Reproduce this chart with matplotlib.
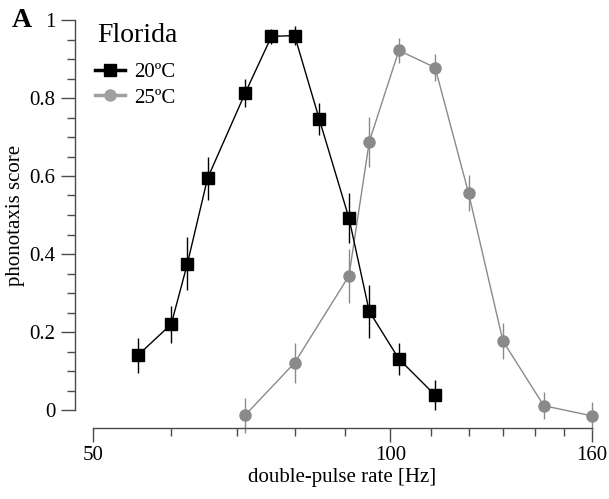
import matplotlib.pyplot as plt
from matplotlib.lines import Line2D
from matplotlib.ticker import FixedLocator, NullFormatter, MultipleLocator

plt.rcParams['font.family'] = ['Liberation Serif', 'DejaVu Serif']

# 20 degC series
rate_20 = [55.5, 60, 62.3, 65.3, 71.3, 75.8, 80, 84.7, 90.8, 95.2, 102, 111]
score_20 = [0.140, 0.220, 0.375, 0.594, 0.813, 0.958, 0.960, 0.747, 0.492, 0.253, 0.131, 0.038]
err_20 = [0.044, 0.047, 0.068, 0.055, 0.035, 0.02, 0.025, 0.041, 0.064, 0.068, 0.040, 0.038]

# 25 degC series
rate_25 = [71.3, 80, 90.8, 95.2, 102, 111, 120, 130, 143, 160]
score_25 = [-0.013, 0.121, 0.344, 0.688, 0.922, 0.878, 0.556, 0.177, 0.011, -0.015]
err_25 = [0.045, 0.051, 0.069, 0.064, 0.032, 0.034, 0.046, 0.046, 0.035, 0.036]

major_x = [50, 100, 160]
minor_x = [60, 70, 80, 90, 110, 120, 130, 140, 150]
y_ticks = [0, 0.2, 0.4, 0.6, 0.8, 1.0]
y_labels = ['0', '0.2', '0.4', '0.6', '0.8', '1']

axis_col = '#4a4a4a'
gray = '#8a8a8a'

fig = plt.figure(figsize=(6.09, 4.99), dpi=100)
ax = fig.add_axes([93 / 609, 89 / 499, 499 / 609, 390 / 499])

ax.errorbar(rate_20, score_20, yerr=err_20, color='black', lw=1.0,
            marker='s', ms=8.5, elinewidth=1.0, capsize=0, zorder=3)
ax.errorbar(rate_25, score_25, yerr=err_25, color=gray, lw=1.0,
            marker='o', ms=8, mfc=gray, mec=gray, elinewidth=1.0, capsize=0,
            zorder=2)
for c in ax.lines + list(ax.collections):
    c.set_clip_on(False)

ax.set_xscale('log')
ax.set_xlim(50, 160)
ax.set_ylim(0, 1)

ax.xaxis.set_major_locator(FixedLocator(major_x))
ax.xaxis.set_major_formatter(plt.FixedFormatter([str(v) for v in major_x]))
ax.xaxis.set_minor_locator(FixedLocator(minor_x))
ax.xaxis.set_minor_formatter(NullFormatter())
ax.set_yticks(y_ticks)
ax.set_yticklabels(y_labels)
ax.yaxis.set_minor_locator(MultipleLocator(0.05))

for s in ['top', 'right']:
    ax.spines[s].set_visible(False)
for s in ['left', 'bottom']:
    ax.spines[s].set_position(('outward', 13))
    ax.spines[s].set_color(axis_col)
    ax.spines[s].set_linewidth(1.0)

ax.tick_params(which='major', length=10, width=1.0, color=axis_col,
               labelsize=15, pad=4)
ax.tick_params(which='minor', length=5.5, width=1.0, color=axis_col)
ax.tick_params(axis='x', which='major', pad=3)

ax.set_xlabel('double-pulse rate [Hz]', fontsize=15, labelpad=2)
ax.set_ylabel('phonotaxis score', fontsize=15, labelpad=3)

fig.text(97 / 609, 1 - 42 / 499, 'Florida', fontsize=20, va='baseline', ha='left')

handles = [
    Line2D([], [], color='black', lw=2.5, marker='s', ms=8),
    Line2D([], [], color='#a0a0a0', lw=2.5, marker='o', ms=8, mfc='#a0a0a0', mec='#a0a0a0'),
]
ax.legend(handles, ['20ºC', '25ºC'], loc='center left',
          bbox_to_anchor=(95 / 609, 1 - 85 / 499), bbox_transform=fig.transFigure,
          frameon=False, fontsize=15, handlelength=1.45, handletextpad=0.45,
          labelspacing=0.3, borderaxespad=0, borderpad=0)

fig.text(12 / 609, 1 - 27 / 499, 'A', fontsize=20, fontweight='bold', va='baseline')

fig.savefig('out.png', dpi=100)
